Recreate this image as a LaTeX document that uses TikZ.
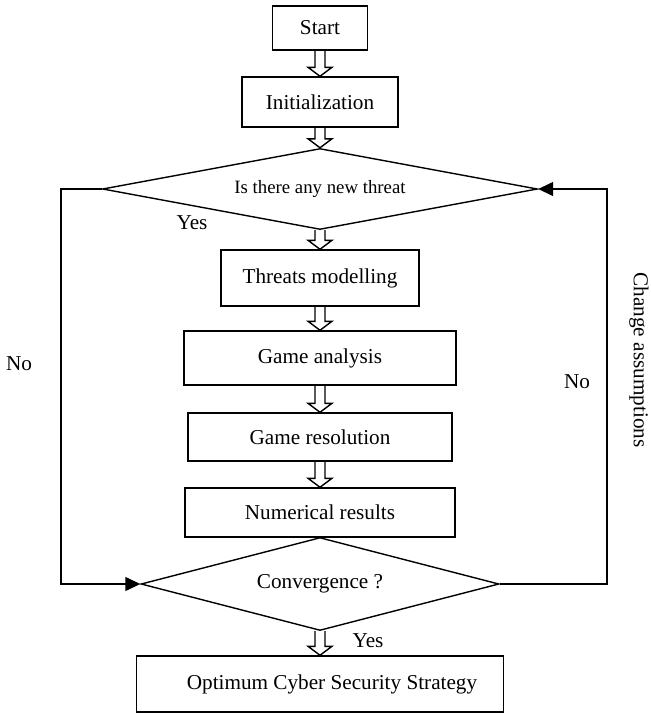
\documentclass[tikz,border=0pt]{standalone}
\usepackage{fontspec}
\setmainfont{Liberation Serif}
\usetikzlibrary{shapes.geometric}
\usetikzlibrary{arrows.meta}
\usetikzlibrary{calc}

% open block arrow between two stacked steps
\newcommand{\hollowarr}[2]{%
  \draw[hollow] ($(#1)+(-5,0)$) -- ($(#2)+(-5,-9)$) -- ($(#2)+(-12,-9)$)
    -- (#2) -- ($(#2)+(12,-9)$) -- ($(#2)+(5,-9)$) -- ($(#1)+(5,0)$);}

\begin{document}
\begin{tikzpicture}
[x=0.5pt,y=-0.5pt,line width=0.7pt,%
  every node/.style={font=\fontsize{10.6}{12}\selectfont},%
  stepbox/.style={draw,rectangle,inner sep=0pt},%
  testbox/.style={draw,diamond,inner sep=0pt},%
  hollow/.style={draw,line join=miter},%
  loopline/.style={-{Triangle[length=7.5pt,width=7pt]}}]
\useasboundingbox (0,0) rectangle (651,713);

\node[stepbox,minimum width=47.5pt,minimum height=22pt] (start) at (320,28) {Start};
\node[stepbox,minimum width=78pt,minimum height=25pt] (init) at (320,102) {Initialization};
\node[testbox,shape aspect=5.37,minimum width=217.5pt,minimum height=40.5pt,
  font=\fontsize{9.4}{11}\selectfont] (newthreat) at (320,189) {Is there any new threat};
\node[stepbox,minimum width=99pt,minimum height=28pt] (model) at (320,278) {Threats modelling};
\node[stepbox,minimum width=136pt,minimum height=27pt] (analysis) at (320,358) {Game analysis};
\node[stepbox,minimum width=132pt,minimum height=24pt] (resol) at (320,437) {Game resolution};
\node[stepbox,minimum width=135pt,minimum height=24.5pt] (numres) at (320,512.5) {Numerical results};
\node[testbox,shape aspect=3.85,minimum width=179pt,minimum height=46.5pt] (conv) at (320,584) {Convergence ?};
\node[stepbox,minimum width=183.5pt,minimum height=28pt,
  label={[xshift=6pt]center:Optimum Cyber Security Strategy}] (optimum) at (320,684) {};

% main flow
\hollowarr{start.south}{init.north}
\hollowarr{init.south}{newthreat.north}
\hollowarr{newthreat.south}{model.north}
\hollowarr{model.south}{analysis.north}
\hollowarr{analysis.south}{resol.north}
\hollowarr{resol.south}{numres.north}
\hollowarr{conv.south}{optimum.north}

% loops back
\coordinate (nocorner) at (61,189);
\coordinate (backcorner) at (607,584);
\draw[loopline] (newthreat.west) -- (nocorner) |- (conv.west);
\draw[loopline] (conv.east) -- (backcorner) |- (newthreat.east);

\node (yesnew) at (192,223) {Yes};
\node (noleft) at (19,364) {No};
\node (noright) at (577,382) {No};
\node[rotate=-90] (change) at (639,360) {Change assumptions};
\node (yesconv) at (368,641) {Yes};
\end{tikzpicture}
\end{document}
